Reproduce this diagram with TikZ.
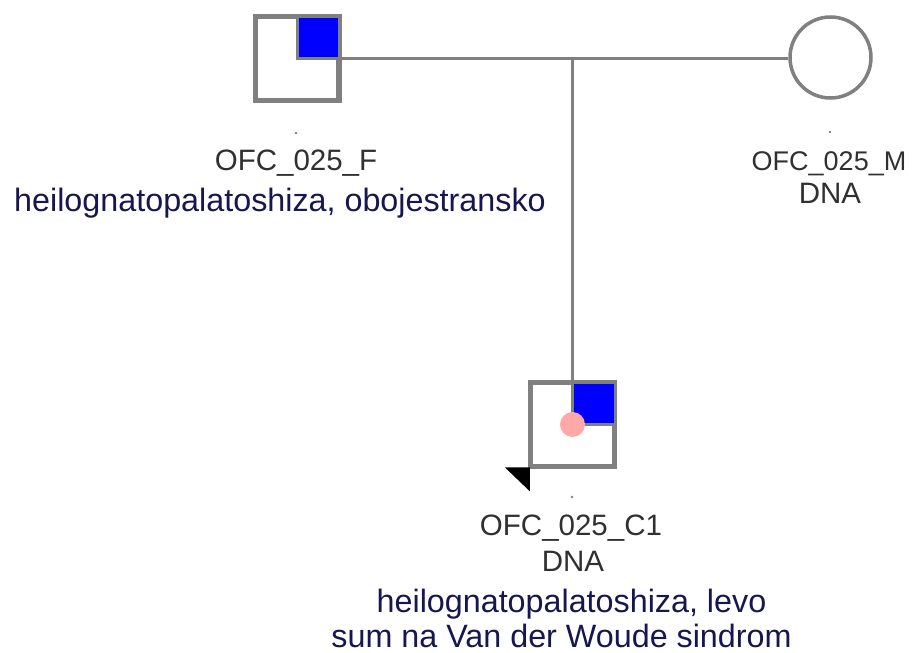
\documentclass[tikz,border=0pt]{standalone}
\usepackage{fontspec}
\setmainfont{Liberation Sans}
\usetikzlibrary{calc}
\definecolor{pedline}{RGB}{128,128,128}
\definecolor{idtext}{RGB}{48,48,48}
\definecolor{diagtext}{RGB}{22,22,80}
\definecolor{affected}{RGB}{0,0,255}
\definecolor{marker}{RGB}{255,168,168}
\begin{document}
\begin{tikzpicture}[x=1pt,y=-1pt,
  male/.style={rectangle, draw=pedline, line width=3.5pt, fill=white,
    minimum size=82pt, inner sep=0pt},
  female/.style={circle, draw=pedline, line width=3.5pt, fill=white,
    minimum size=81pt, inner sep=0pt},
  rel/.style={draw=pedline, line width=3pt},
  quad/.style={draw=pedline, line width=3pt},
  idlabel/.style={text=idtext, anchor=base, inner sep=0pt,
    font=\fontsize{29.5}{30}\selectfont},
  diaglabel/.style={text=diagtext, anchor=base, inner sep=0pt,
    font=\fontsize{32.3}{33}\selectfont},
  tick/.style={fill=pedline}]
\useasboundingbox (0,0) rectangle (922,653);

% individuals
\node[male]   (F) at (297,58.5) {};
\node[female] (M) at (830.5,57.5) {};
\node[male]   (C) at (572.5,424.5) {};

% affected quadrants
\fill[affected] (F.center) rectangle (F.north east);
\draw[quad] (F.north) -- (F.center) -- (F.east);
\draw[pedline, line width=3.5pt] (F.south west) rectangle (F.north east);

\fill[affected] (C.center) rectangle (C.north east);
\draw[quad] (C.north) -- (C.center) -- (C.east);
\draw[pedline, line width=3.5pt] (C.south west) rectangle (C.north east);
\fill[marker] (C.center) circle (12.5);

% proband arrow
\fill[black] ($(C.south west)+(-25,0)$) -- (C.south west)
  -- ($(C.south west)+(0,24)$) -- cycle;

% relationship and descent lines
\coordinate (sib) at (572.5,58.5);
\draw[rel] (F.east) -- (M.west |- F.east);
\draw[rel] (sib) -- (C.north);

% small marks above the labels
\fill[tick] (296,133) circle (1.3);
\fill[tick] (830,132) circle (1.3);
\fill[tick] (572,497) circle (1.3);

% labels of the father
\node[idlabel]   (Fid) at (296,170) {OFC\_025\_F};
\node[diaglabel] (Fdx) at (280,211) {heilognatopalatoshiza, obojestransko};

% labels of the mother
\node[idlabel, font=\fontsize{27}{28}\selectfont] (Mid) at (829,170) {OFC\_025\_M};
\node[idlabel]   (Mdna) at (830,203) {DNA};

% labels of the child
\node[idlabel]   (Cid)  at (571,535) {OFC\_025\_C1};
\node[idlabel]   (Cdna) at (573,571) {DNA};
\node[diaglabel] (Cdx1) at (571.5,612) {heilognatopalatoshiza, levo};
\node[diaglabel] (Cdx2) at (561.5,647) {sum na Van der Woude sindrom};
\end{tikzpicture}
\end{document}
